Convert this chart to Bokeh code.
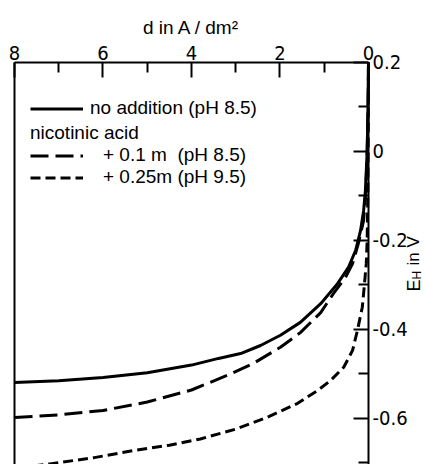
import math

from bokeh.plotting import figure
from bokeh.models import (ColumnDataSource, FixedTicker, Label, Legend,
                          LegendItem, LinearAxis, Range1d)
from bokeh.embed import file_html
from bokeh.resources import INLINE

# Cathodic polarisation: current density d (A/dm2) vs. potential E_H (V)
d_plain = [0, 0.01, 0.03, 0.07, 0.11, 0.18, 0.29, 0.45, 0.70, 1.08, 1.54,
           1.99, 2.44, 2.89, 3.39, 4.0, 5.0, 6.0, 7.0, 8.0]
e_plain = [0.2, 0.1, 0.0, -0.088, -0.133, -0.178, -0.222, -0.26, -0.297,
           -0.342, -0.384, -0.413, -0.436, -0.454, -0.465, -0.48, -0.497,
           -0.508, -0.515, -0.519]

d_nic01 = [0, 0.01, 0.03, 0.06, 0.11, 0.23, 0.36, 0.52, 0.79, 1.08, 1.54,
           1.99, 2.6, 3.19, 4.0, 5.0, 6.0, 7.0, 8.0]
e_nic01 = [0.2, 0.1, 0.0, -0.09, -0.155, -0.207, -0.252, -0.283, -0.319,
           -0.362, -0.407, -0.44, -0.476, -0.503, -0.536, -0.563, -0.582,
           -0.592, -0.598]

d_nic025 = [0, 0.005, 0.015, 0.03, 0.05, 0.09, 0.14, 0.25, 0.36, 0.56, 0.86,
            1.15, 1.6, 2.3, 3.0, 3.8, 4.5, 5.3, 6.2, 7.2, 8.0]
e_nic025 = [0.2, 0.05, -0.1, -0.2, -0.252, -0.297, -0.35, -0.402, -0.447,
            -0.485, -0.515, -0.537, -0.566, -0.598, -0.624, -0.646, -0.66,
            -0.672, -0.688, -0.702, -0.712]

x_ticks = [0, 2, 4, 6, 8]
x_minor_ticks = [1, 3, 5, 7]
y_ticks = [0.2, 0.0, -0.2, -0.4, -0.6]
y_minor_ticks = [0.1, -0.1, -0.3, -0.5, -0.7]
y_tick_labels = ["0.2", "0", "-0.2", "-0.4", "-0.6"]

x_title = "d in A / dm²"
series_labels = ["no addition (pH 8.5)", "+ 0.1 m  (pH 8.5)", "+ 0.25m (pH 9.5)"]
legend_group_title = "nicotinic acid"

NUM_FONT = "'DejaVu Sans Condensed', sans-serif"
TXT_FONT = "'Liberation Sans', Arial, sans-serif"

D_MAX, D_MIN = 8, 0          # extent of the drawn current-density axis
E_TOP, E_BOTTOM = 0.2, -0.8  # extent of the drawn potential axes

# the frame fills the canvas; axes are pinned at data positions inside it
p = figure(width=426, height=464,
           x_range=Range1d(8.3164, -1.311), y_range=Range1d(-0.7034, 0.3393),
           x_axis_location="above", y_axis_location="right",
           output_backend="svg", toolbar_location=None,
           min_border=0)
p.grid.visible = False
p.outline_line_color = None
p.background_fill_color = "white"
p.border_fill_color = "white"

# top axis: current density, along E = 0.2
xa = p.xaxis[0]
xa.fixed_location = E_TOP
xa.bounds = (D_MIN, D_MAX)
xa.ticker = FixedTicker(ticks=x_ticks, minor_ticks=x_minor_ticks)
# right axis: potential, along d = 0
ya = p.yaxis[0]
ya.fixed_location = D_MIN
ya.bounds = (E_BOTTOM, E_TOP)
ya.ticker = FixedTicker(ticks=y_ticks, minor_ticks=y_minor_ticks)
ya.major_label_overrides = {t: s for t, s in zip(y_ticks, y_tick_labels)}

for ax in (xa, ya):
    ax.axis_line_width = 2
    ax.axis_line_color = "black"
    ax.major_tick_in = 15
    ax.major_tick_out = 0
    ax.minor_tick_in = 10
    ax.minor_tick_out = 0
    ax.major_tick_line_width = 2
    ax.minor_tick_line_width = 2
    ax.major_tick_line_color = "black"
    ax.minor_tick_line_color = "black"
    ax.major_label_text_font = NUM_FONT
    ax.major_label_text_font_size = "20px"
    ax.major_label_text_color = "black"
xa.major_label_standoff = 2
ya.major_label_standoff = 4

# plain frame line on the left, along d = 8
frame_left = LinearAxis(fixed_location=D_MAX, bounds=(E_BOTTOM, E_TOP),
                        ticker=FixedTicker(ticks=[]), axis_line_width=2,
                        axis_line_color="black", major_tick_in=0, major_tick_out=0,
                        minor_tick_in=0, minor_tick_out=0)
p.add_layout(frame_left, "left")

src_plain = ColumnDataSource(data=dict(d=d_plain, e=e_plain))
src_nic01 = ColumnDataSource(data=dict(d=d_nic01, e=e_nic01))
src_nic025 = ColumnDataSource(data=dict(d=d_nic025, e=e_nic025))

r_plain = p.line("d", "e", source=src_plain, line_width=3, line_color="black")
r_nic01 = p.line("d", "e", source=src_nic01, line_width=3, line_color="black",
                 line_dash="18 7")
r_nic025 = p.line("d", "e", source=src_nic025, line_width=3, line_color="black",
                  line_dash="10 5")


def styled_legend(**kw):
    return Legend(glyph_width=53, glyph_height=19, label_height=19,
                  padding=0, spacing=0, margin=0,
                  border_line_color=None, background_fill_alpha=0,
                  label_text_font=TXT_FONT, label_text_font_size="19px",
                  label_text_color="black", **kw)


leg_plain = styled_legend(items=[LegendItem(label=series_labels[0], renderers=[r_plain])],
                          location=(30, 345), label_standoff=7)
leg_nic = styled_legend(title=legend_group_title,
                        items=[LegendItem(label=series_labels[1], renderers=[r_nic01]),
                               LegendItem(label=series_labels[2], renderers=[r_nic025])],
                        location=(30, 276), label_standoff=20)
leg_nic.title_text_font = TXT_FONT
leg_nic.title_text_font_size = "19px"
leg_nic.title_text_font_style = "normal"
leg_nic.title_text_color = "black"
leg_nic.title_standoff = 0
p.add_layout(leg_plain)
p.add_layout(leg_nic)

# current-density axis title, centred over the 0..8 span
p.add_layout(Label(x=(D_MIN + D_MAX) / 2, y=0.2787, text=x_title,
                   text_align="center", text_baseline="middle",
                   text_font=TXT_FONT, text_font_size="19px", text_color="black"))

# rotated potential-axis title  E_H in V  (reads upward)
lab_kw = dict(angle=math.pi / 2, text_align="left", text_baseline="alphabetic",
              text_font=TXT_FONT, text_color="black")
p.add_layout(Label(x=-1.02, y=-0.3146, text="E", text_font_size="18px", **lab_kw))
p.add_layout(Label(x=-1.09, y=-0.2876, text="H", text_font_size="12px", **lab_kw))
p.add_layout(Label(x=-1.02, y=-0.2562, text="in V", text_font_size="17px", **lab_kw))

open("out.html", "w").write(file_html(p, INLINE))
